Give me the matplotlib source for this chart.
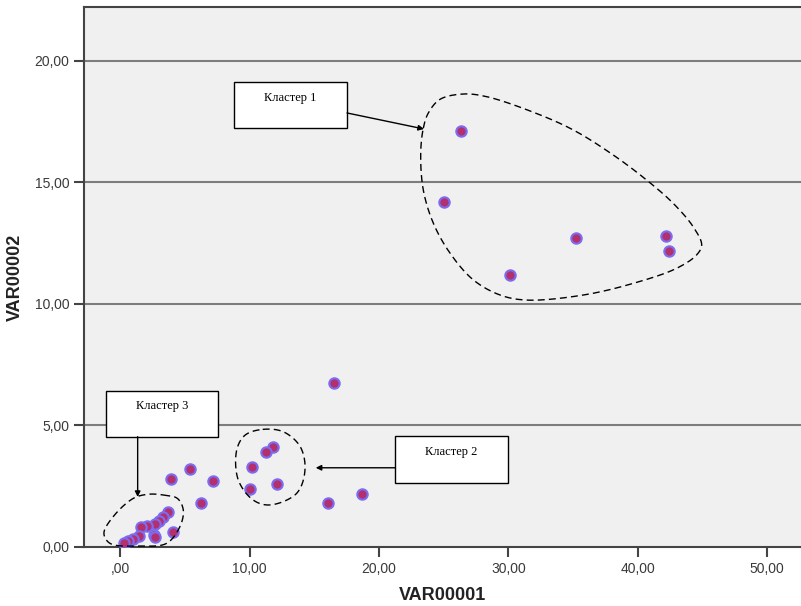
import matplotlib
matplotlib.use("Agg")
import matplotlib.pyplot as plt
import numpy as np
from matplotlib.patches import Rectangle

# точки диаграммы рассеяния (VAR00001, VAR00002)
var1 = [26.3, 25.0, 35.2, 42.2, 42.4, 30.1,
        16.5, 5.4, 3.9, 7.15, 6.2, 4.1, 16.05, 18.7,
        11.8, 11.25, 10.15, 10.05, 12.1,
        3.7, 3.3, 3.0, 2.65, 2.05, 1.55, 2.6, 2.7, 1.45, 1.0, 0.6, 0.27]
var2 = [17.1, 14.2, 12.7, 12.8, 12.2, 11.2,
        6.75, 3.2, 2.8, 2.7, 1.82, 0.6, 1.8, 2.2,
        4.1, 3.9, 3.3, 2.4, 2.6,
        1.42, 1.22, 1.08, 0.95, 0.85, 0.84, 0.5, 0.4, 0.45, 0.33, 0.24, 0.18]

x_ticks = [0, 10, 20, 30, 40, 50]
x_tick_labels = [",00", "10,00", "20,00", "30,00", "40,00", "50,00"]
y_ticks = [0, 5, 10, 15, 20]
y_tick_labels = ["0,00", "5,00", "10,00", "15,00", "20,00"]

cluster_labels = ["Кластер 1", "Кластер 2", "Кластер 3"]

# контуры кластеров (опорные точки замкнутых кривых)
outline1 = [(23.42, 17.23), (23.80, 17.85), (24.71, 18.42), (26.52, 18.64), (28.32, 18.53),
            (31.93, 17.89), (35.02, 17.16), (38.11, 16.13), (40.69, 15.10), (42.75, 14.14),
            (44.30, 13.17), (44.95, 12.43), (44.56, 12.02), (43.02, 11.47), (39.67, 10.85),
            (35.81, 10.37), (31.42, 10.16), (29.35, 10.37), (27.29, 10.99), (25.49, 12.09),
            (24.20, 13.32), (23.42, 14.69), (23.22, 16.2)]
outline2 = [(11.0, 4.84), (12.6, 4.74), (13.9, 4.13), (14.27, 3.17), (13.63, 2.21),
            (11.56, 1.73), (10.27, 1.93), (9.11, 2.76), (8.99, 3.99), (9.63, 4.6)]
outline3 = [(3.31, 2.14), (4.4, 2.0), (4.86, 1.52), (4.6, 0.84), (3.57, 0.15),
            (1.51, 0.04), (-0.81, 0.15), (-1.28, 0.56), (-0.56, 1.25), (0.99, 2.0),
            (2.15, 2.17)]

Y_SCALE = 24.3 / 12.93  # пикселей на единицу y / на единицу x


def closed_curve(pts, n=30):
    # периодический центростремительный сплайн Катмулла-Рома
    p = np.array(pts, dtype=float)
    p[:, 1] *= Y_SCALE
    m = len(p)
    out = []
    for i in range(m):
        p0, p1, p2, p3 = p[i - 1], p[i], p[(i + 1) % m], p[(i + 2) % m]
        t0 = 0.0
        t1 = t0 + np.linalg.norm(p1 - p0) ** 0.5
        t2 = t1 + np.linalg.norm(p2 - p1) ** 0.5
        t3 = t2 + np.linalg.norm(p3 - p2) ** 0.5
        t = np.linspace(t1, t2, n, endpoint=False)[:, None]
        a1 = (t1 - t) / (t1 - t0) * p0 + (t - t0) / (t1 - t0) * p1
        a2 = (t2 - t) / (t2 - t1) * p1 + (t - t1) / (t2 - t1) * p2
        a3 = (t3 - t) / (t3 - t2) * p2 + (t - t2) / (t3 - t2) * p3
        b1 = (t2 - t) / (t2 - t0) * a1 + (t - t0) / (t2 - t0) * a2
        b2 = (t3 - t) / (t3 - t1) * a2 + (t - t1) / (t3 - t1) * a3
        out.append((t2 - t) / (t2 - t1) * b1 + (t - t1) / (t2 - t1) * b2)
    out = np.vstack(out)
    out = np.vstack([out, out[:1]])
    out[:, 1] /= Y_SCALE
    return out


fig = plt.figure(figsize=(8.01, 6.06), dpi=100)
ax = fig.add_axes([84 / 801, 59 / 606, 717 / 801, 540 / 606])
ax.set_facecolor("#f0f0f0")

ax.set_xlim(-2.82, 52.63)
ax.set_ylim(0, 22.22)

for yv in y_ticks[1:]:
    ax.axhline(yv, color="#7d7d7d", lw=1.5, zorder=1)

ax.scatter(var1, var2, s=56, facecolor="#b3306f", edgecolor="#7b6cf0",
           linewidth=1.5, zorder=3)

for outline in (outline1, outline2, outline3):
    c = closed_curve(outline)
    ax.plot(c[:, 0], c[:, 1], color="black", lw=1.0, ls=(0, (5, 3)), zorder=4)

# подписи кластеров
boxes = [
    (8.8, 17.24, 8.7, 1.88, 13.16, 18.48, (17.52, 17.86), (23.47, 17.2)),
    (21.23, 2.62, 8.72, 1.95, 25.54, 3.92, (21.23, 3.26), (15.1, 3.26)),
    (-1.14, 4.54, 8.7, 1.89, 3.19, 5.80, (1.33, 4.54), (1.33, 2.06)),
]
for lab, (bx, by, bw, bh, tx, ty, a_from, a_to) in zip(cluster_labels, boxes):
    ax.add_patch(Rectangle((bx, by), bw, bh, facecolor="white", edgecolor="black",
                           lw=1.0, zorder=5))
    ax.text(tx, ty, lab, ha="center", va="center", fontsize=9,
            family="Liberation Serif", zorder=6)
    ax.annotate("", xy=a_to, xytext=a_from,
                arrowprops=dict(arrowstyle="-|>", color="black", lw=1.0,
                                mutation_scale=8, shrinkA=0, shrinkB=0),
                zorder=6)

ax.set_xticks(x_ticks)
ax.set_xticklabels(x_tick_labels)
ax.set_yticks(y_ticks)
ax.set_yticklabels(y_tick_labels)
ax.tick_params(axis="both", direction="out", length=7, width=1.5, color="#444444",
               labelcolor="#3a3a3a", labelsize=10)
for lbl in ax.get_xticklabels() + ax.get_yticklabels():
    lbl.set_family("Liberation Sans")

for side in ("left", "bottom", "top"):
    ax.spines[side].set_color("#444444")
    ax.spines[side].set_linewidth(1.5)
ax.spines["right"].set_visible(False)

ax.set_xlabel("VAR00001", fontsize=13, fontweight="bold", family="Liberation Sans",
              color="#222222", labelpad=8)
ax.set_ylabel("VAR00002", fontsize=13, fontweight="bold", family="Liberation Sans",
              color="#222222", labelpad=8)

fig.savefig("out.png", dpi=100)
